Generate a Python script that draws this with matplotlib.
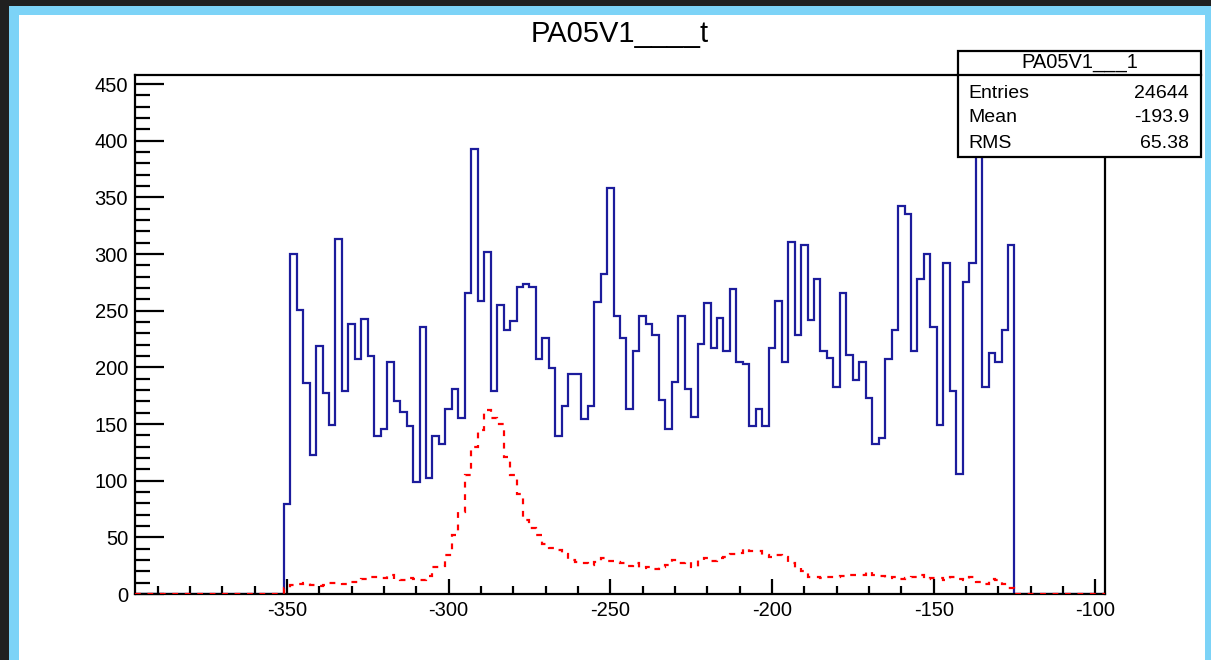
import numpy as np
import matplotlib
matplotlib.use("Agg")
import matplotlib.pyplot as plt
from matplotlib.patches import Rectangle
from matplotlib.lines import Line2D
from matplotlib.ticker import MultipleLocator, FixedLocator, FixedFormatter

# ---- histogram definition -------------------------------------------------
x_low, x_high, n_bins = -397.0, -97.0, 150
first_filled_edge = -351.0          # lower edge of the first filled bin

# PA05V1___1 (blue, solid)
blue_counts = [
    79, 300, 251, 186, 123, 219, 177, 149, 313, 179,
    238, 207, 243, 210, 139, 146, 205, 170, 161, 148,
    99, 236, 102, 139, 132, 163, 181, 155, 266, 393,
    259, 302, 179, 255, 233, 241, 271, 274, 271, 207,
    226, 199, 139, 166, 194, 194, 154, 166, 258, 282,
    358, 245, 226, 163, 214, 245, 238, 229, 171, 146,
    187, 245, 181, 156, 221, 257, 217, 244, 214, 269,
    205, 203, 148, 163, 148, 217, 259, 205, 311, 229,
    308, 242, 278, 214, 208, 183, 266, 211, 189, 205,
    173, 132, 138, 207, 233, 342, 335, 214, 278, 300,
    236, 149, 292, 179, 106, 275, 292, 436, 183, 213,
    205, 233, 308,
]

# second histogram (red, dashed)
red_counts = [
    5, 8, 9, 10, 8, 7, 8, 10, 10, 9,
    11, 11, 13, 15, 15, 14, 17, 13, 12, 14,
    13, 12, 16, 24, 25, 34, 52, 72, 105, 130,
    145, 162, 155, 150, 121, 105, 88, 65, 58, 52,
    44, 41, 39, 35, 30, 28, 27, 26, 28, 32,
    29, 28, 27, 25, 27, 23, 24, 22, 24, 26,
    30, 27, 28, 24, 30, 32, 29, 32, 33, 35,
    36, 40, 38, 38, 34, 33, 34, 33, 27, 23,
    20, 15, 15, 14, 15, 15, 16, 17, 17, 17,
    19, 17, 16, 14, 15, 13, 14, 15, 17, 13,
    14, 14, 12, 15, 13, 12, 15, 11, 9, 13,
    12, 9, 5,
]

title_text = "PA05V1____t"
stats_name = "PA05V1___1"
stats_labels = ["Entries", "Mean", "RMS"]
stats_values = ["24644", "-193.9", "65.38"]

x_ticks = [-350, -300, -250, -200, -150, -100]
y_ticks = [0, 50, 100, 150, 200, 250, 300, 350, 400, 450]
y_max = 458

# ---- figure ---------------------------------------------------------------
W, H = 1211, 660
plt.rcParams["font.family"] = ["Liberation Sans", "DejaVu Sans"]
fig = plt.figure(figsize=(W / 100, H / 100), dpi=100)
fig.patch.set_facecolor("#202020")


def fx(x):
    return x / W


def fy(y):
    return 1 - y / H


# window border and canvas
fig.add_artist(Rectangle((fx(9), 0), 1 - fx(9), fy(6), transform=fig.transFigure,
                         facecolor="#7cd3f7", edgecolor="none", zorder=0))
fig.add_artist(Rectangle((fx(19), 0), fx(1205) - fx(19), fy(15), transform=fig.transFigure,
                         facecolor="white", edgecolor="none", zorder=0))

ax = fig.add_axes([fx(135), fy(594), fx(1105) - fx(135), fy(75) - fy(594)])
ax.set_facecolor("white")

edges = np.linspace(x_low, x_high, n_bins + 1)
bin_w = (x_high - x_low) / n_bins
start = int(round((first_filled_edge - x_low) / bin_w))


def full_range(counts):
    arr = np.zeros(n_bins)
    arr[start:start + len(counts)] = counts
    return arr


ax.stairs(full_range(blue_counts), edges, color="#1c1c9c", linewidth=1.6, zorder=2)
ax.stairs(full_range(red_counts), edges, color="#ff0000", linewidth=1.6,
          linestyle=(0, (2.6, 3.0)), zorder=3)

ax.set_xlim(x_low, x_high)
ax.set_ylim(0, y_max)

for side in ("left", "bottom", "right", "top"):
    ax.spines[side].set_linewidth(1.6)
    ax.spines[side].set_zorder(2.5)

ax.xaxis.set_major_locator(FixedLocator(x_ticks))
ax.xaxis.set_major_formatter(FixedFormatter([f"{v:d}" for v in x_ticks]))
ax.xaxis.set_minor_locator(MultipleLocator(10))
ax.yaxis.set_major_locator(FixedLocator(y_ticks))
ax.yaxis.set_major_formatter(FixedFormatter([f"{v:d}" for v in y_ticks]))
ax.yaxis.set_minor_locator(MultipleLocator(10))

ax.xaxis.set_tick_params(which="major", direction="in", length=11, width=1.6,
                         labelsize=14.5, pad=5)
ax.xaxis.set_tick_params(which="minor", direction="in", length=6, width=1.6)
ax.yaxis.set_tick_params(which="major", direction="in", length=21, width=1.6,
                         labelsize=14.5, pad=5)
ax.yaxis.set_tick_params(which="minor", direction="in", length=11, width=1.6)

# title
fig.text(fx(620), fy(34), title_text, ha="center", va="center", fontsize=21)

# statistics box
bx0, bx1, by0, by1, bsep = 958, 1201, 51, 157, 75
fig.add_artist(Rectangle((fx(bx0), fy(by1)), fx(bx1) - fx(bx0), fy(by0) - fy(by1),
                         transform=fig.transFigure, facecolor="white",
                         edgecolor="black", linewidth=1.6, zorder=5))
fig.add_artist(Line2D([fx(bx0), fx(bx1)], [fy(bsep), fy(bsep)], transform=fig.transFigure,
                      color="black", linewidth=1.6, zorder=6))
fig.text(fx((bx0 + bx1) / 2), fy(63), stats_name, ha="center", va="center",
         fontsize=14.5, zorder=7)
row_y = [93, 118, 144]
for lab, val, yy in zip(stats_labels, stats_values, row_y):
    fig.text(fx(968), fy(yy), lab, ha="left", va="center", fontsize=14, zorder=7)
    fig.text(fx(1189), fy(yy), val, ha="right", va="center", fontsize=14, zorder=7)

fig.savefig("out.png", dpi=100, facecolor=fig.get_facecolor())
